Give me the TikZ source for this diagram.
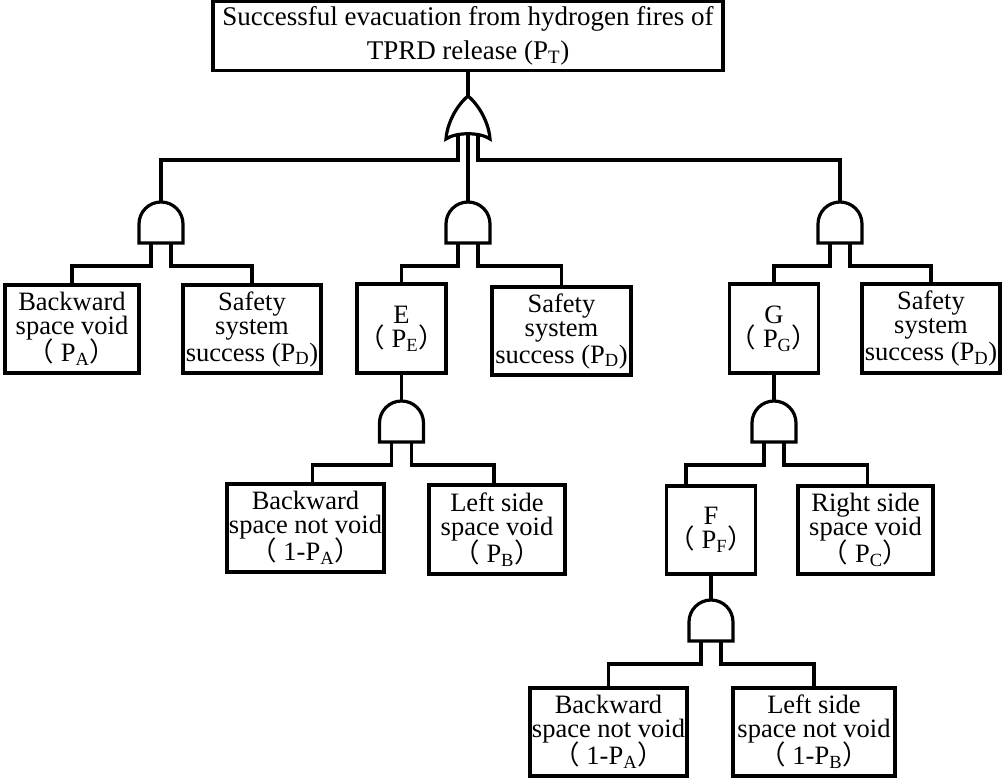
\documentclass[tikz,border=0pt]{standalone}
\usepackage{fontspec}
\setmainfont{Liberation Serif}
\newfontfamily\cjkfont{Noto Sans CJK SC}
\newcommand\lpar{{\cjkfont （}}
\newcommand\rpar{{\cjkfont ）}}
\protected\def\boxfont{\fontsize{26.5}{24}\selectfont\lineskiplimit=-100pt\relax\lineskip=0pt\relax}
\protected\def\topfont{\fontsize{27}{34}\selectfont}
\tikzset{
  box/.style={draw, line width=3.2pt, inner sep=0pt, align=center, font=\boxfont},
  wire/.style={line width=3.2pt},
  gateline/.style={line width=3.2pt, fill=white},
  andgate/.pic={
    \draw[gateline] (-22,41) -- (-22,22) arc[start angle=180,end angle=0,radius=22pt] -- (22,41) -- cycle;
    \coordinate (-top) at (0,0);
    \coordinate (-l) at (-10,41);
    \coordinate (-r) at (10,41);
  },
  orgate/.pic={
    \draw[gateline] (0,0) .. controls (-12,10) and (-21,28) .. (-22,43)
      .. controls (-12,36) and (12,36) .. (22,43)
      .. controls (21,28) and (12,10) .. (0,0) -- cycle;
    \coordinate (-top) at (0,0);
    \coordinate (-l) at (-10,38.6);
    \coordinate (-m) at (0,37.75);
    \coordinate (-r) at (10,38.6);
  }
}
\begin{document}
\begin{tikzpicture}[x=1pt,y=-1pt]
\useasboundingbox (0,0) rectangle (1002,778);

% boxes
\node[box, minimum width=510pt, minimum height=69pt, font=\topfont] (T) at (468,36)
  {Successful evacuation from hydrogen fires of\\ TPRD release (P\textsubscript{T})};
\node[box, minimum width=134pt, minimum height=88pt] (A) at (72,329)
  {Backward\\ space void\\[3pt] \lpar\ P\textsubscript{A}\rpar};
\node[box, minimum width=138pt, minimum height=88pt] (D1) at (252,329)
  {Safety\\ system\\[3pt] success (P\textsubscript{D})};
\node[box, minimum width=89pt, minimum height=89pt] (E) at (401.5,328.5)
  {E\\ \lpar\ P\textsubscript{E}\rpar};
\node[box, minimum width=139pt, minimum height=88pt] (D2) at (561.5,331)
  {Safety\\ system\\[3pt] success (P\textsubscript{D})};
\node[box, minimum width=89pt, minimum height=89pt] (G) at (774,328.5)
  {G\\ \lpar\ P\textsubscript{G}\rpar};
\node[box, minimum width=138pt, minimum height=89pt] (D3) at (931,328.5)
  {Safety\\ system\\[3pt] success (P\textsubscript{D})};
\node[box, minimum width=157pt, minimum height=88pt] (B1) at (305.5,528)
  {Backward\\ space not void\\[3pt] \lpar\ 1-P\textsubscript{A}\rpar};
\node[box, minimum width=136pt, minimum height=89pt] (B2) at (497,529.5)
  {Left side\\ space void\\[3pt] \lpar\ P\textsubscript{B}\rpar};
\node[box, minimum width=89pt, minimum height=88pt] (F) at (711,530)
  {F\\ \lpar\ P\textsubscript{F}\rpar};
\node[box, minimum width=135pt, minimum height=88pt] (C) at (865.5,530)
  {Right side\\ space void\\[3pt] \lpar\ P\textsubscript{C}\rpar};
\node[box, minimum width=157pt, minimum height=88pt] (B3) at (608.5,732)
  {Backward\\ space not void\\[3pt] \lpar\ 1-P\textsubscript{A}\rpar};
\node[box, minimum width=162pt, minimum height=88pt] (B4) at (814,732)
  {Left side\\ space not void\\[3pt] \lpar\ 1-P\textsubscript{B}\rpar};

% gates
\pic (or) at (468,96) {orgate};
\pic (a1) at (161,202) {andgate};
\pic (a2) at (468,202) {andgate};
\pic (a3) at (840,202) {andgate};
\pic (a4) at (401.5,401) {andgate};
\pic (a5) at (774,401) {andgate};
\pic (a6) at (711,600) {andgate};

% bus levels
\coordinate (bus0) at (0,160);
\coordinate (bus1) at (0,266);
\coordinate (bus2) at (0,465);
\coordinate (bus3) at (0,664);

% connectors
\draw[wire] (T.south) -- (or-top);
\draw[wire] (or-l) -- (or-l |- bus0) -| (a1-top);
\draw[wire] (or-m) -- (a2-top);
\draw[wire] (or-r) -- (or-r |- bus0) -| (a3-top);

\draw[wire] (a1-l) -- (a1-l |- bus1) -| (A.north);
\draw[wire] (a1-r) -- (a1-r |- bus1) -| (D1.north);
\draw[wire] (a2-l) -- (a2-l |- bus1) -| (E.north);
\draw[wire] (a2-r) -- (a2-r |- bus1) -| (D2.north);
\draw[wire] (a3-l) -- (a3-l |- bus1) -| (G.north);
\draw[wire] (a3-r) -- (a3-r |- bus1) -| (D3.north);

\draw[wire] (E.south) -- (a4-top);
\draw[wire] (a4-l) -- (a4-l |- bus2) -| ([xshift=7pt]B1.north);
\draw[wire] (a4-r) -- (a4-r |- bus2) -| ([xshift=-3pt]B2.north);

\draw[wire] (G.south) -- (a5-top);
\draw[wire] (a5-l) -- (a5-l |- bus2) -| ([xshift=21pt]F.north west);
\draw[wire] (a5-r) -- (a5-r |- bus2) -| ([xshift=2pt]C.north);

\draw[wire] (F.south) -- (a6-top);
\draw[wire] (a6-l) -- (a6-l |- bus3) -| (B3.north);
\draw[wire] (a6-r) -- (a6-r |- bus3) -| (B4.north);
\end{tikzpicture}
\end{document}
